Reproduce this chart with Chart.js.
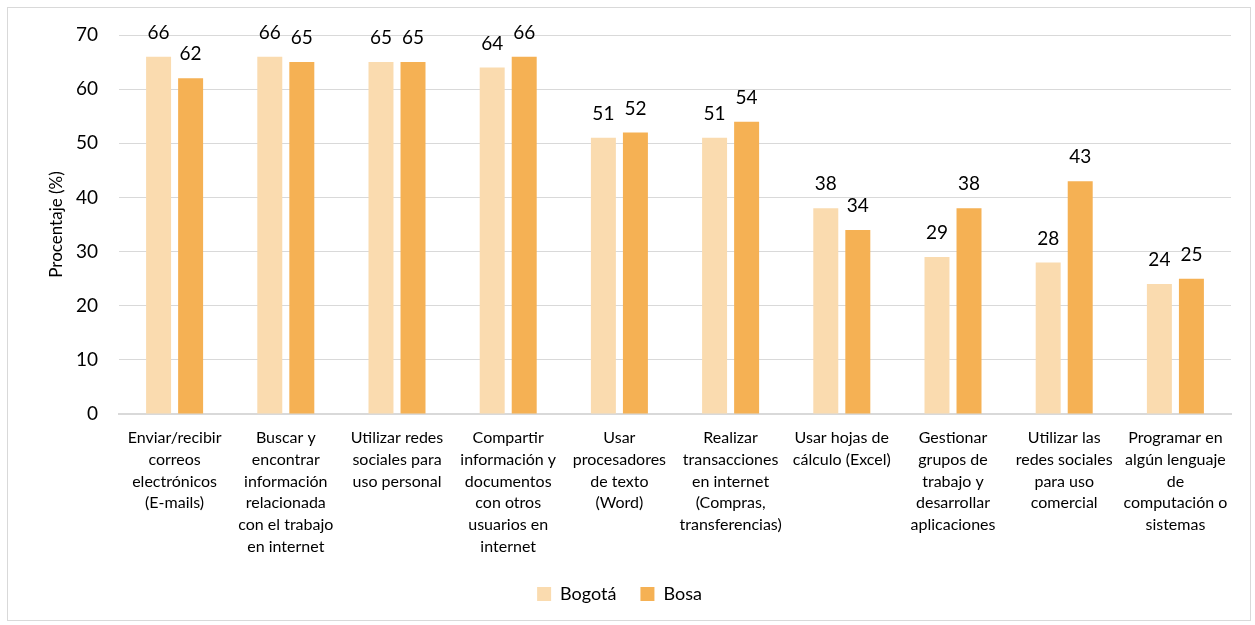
<!DOCTYPE html>
<html>
<head>
<meta charset="utf-8">
<script src="https://cdn.jsdelivr.net/npm/chart.js@4"></script>
<style>
  body { margin: 0; background: #fff; }
  #box { position: absolute; left: 7px; top: 7px; width: 1242px; height: 612px; border: 1px solid #d9d9d9; }
</style>
</head>
<body>
<div id="box"><canvas id="chart" width="1242" height="612"></canvas></div>
<script>
const categories = [
    ["Enviar/recibir", "correos", "electrónicos", "(E-mails)"],
    ["Buscar y", "encontrar", "información", "relacionada", "con el trabajo", "en internet"],
    ["Utilizar redes", "sociales para", "uso personal"],
    ["Compartir", "información y", "documentos", "con otros", "usuarios en", "internet"],
    ["Usar", "procesadores", "de texto", "(Word)"],
    ["Realizar", "transacciones", "en internet", "(Compras,", "transferencias)"],
    ["Usar hojas de", "cálculo (Excel)"],
    ["Gestionar", "grupos de", "trabajo y", "desarrollar", "aplicaciones"],
    ["Utilizar las", "redes sociales", "para uso", "comercial"],
    ["Programar en", "algún lenguaje", "de", "computación o", "sistemas"]
];
const bogota = [66, 66, 65, 64, 51, 51, 38, 29, 28, 24];
const bosa = [62, 65, 65, 66, 52, 54, 34, 38, 43, 25];
const yTicks = [0, 10, 20, 30, 40, 50, 60, 70];

const fontFamily = "Lato, 'Liberation Sans', sans-serif";

// draw the value above each bar
const valueLabels = {
    id: "valueLabels",
    afterDatasetsDraw(chart) {
        const ctx = chart.ctx;
        ctx.save();
        ctx.font = "19px " + fontFamily;
        ctx.fillStyle = "#000";
        ctx.textAlign = "center";
        ctx.textBaseline = "middle";
        chart.data.datasets.forEach((ds, i) => {
            chart.getDatasetMeta(i).data.forEach((bar, j) => {
                ctx.fillText(ds.data[j], bar.x, bar.y - 24);
            });
        });
        ctx.restore();
    }
};

new Chart(document.getElementById("chart"), {
    type: "bar",
    data: {
        labels: categories,
        datasets: [
            { label: "Bogotá", data: bogota, backgroundColor: "#FADBAF" },
            { label: "Bosa", data: bosa, backgroundColor: "#F5B154" }
        ]
    },
    options: {
        responsive: false,
        animation: false,
        devicePixelRatio: 1,
        categoryPercentage: 0.576,
        barPercentage: 0.78,
        layout: { padding: { top: 27, right: 19, left: 0, bottom: 7 } },
        plugins: {
            legend: {
                position: "bottom",
                labels: { boxWidth: 14, boxHeight: 14, padding: 24, color: "#000", font: { family: fontFamily, size: 18 } }
            },
            tooltip: { enabled: false }
        },
        scales: {
            x: {
                grid: { display: false, drawTicks: false },
                border: { color: "#d9d9d9", width: 2 },
                ticks: { color: "#000", padding: 13, maxRotation: 0, autoSkip: false, font: { family: fontFamily, size: 16, lineHeight: 1.36 } },
                afterFit(scale) { scale.height = 147; }
            },
            y: {
                min: 0,
                max: 70,
                afterBuildTicks(scale) { scale.ticks = yTicks.map(v => ({ value: v })); },
                grid: { color: "#d9d9d9", drawTicks: false },
                border: { display: false },
                ticks: { color: "#000", padding: 21, font: { family: fontFamily, size: 19 } },
                title: { display: true, text: "Procentaje (%)", color: "#000", padding: { top: 38, bottom: 0 }, font: { family: fontFamily, size: 17 } },
                afterFit(scale) {
                    scale.width = 111;
                    scale.paddingTop = 0;
                    scale.paddingBottom = 0;
                }
            }
        }
    },
    plugins: [valueLabels]
});
</script>
</body>
</html>
